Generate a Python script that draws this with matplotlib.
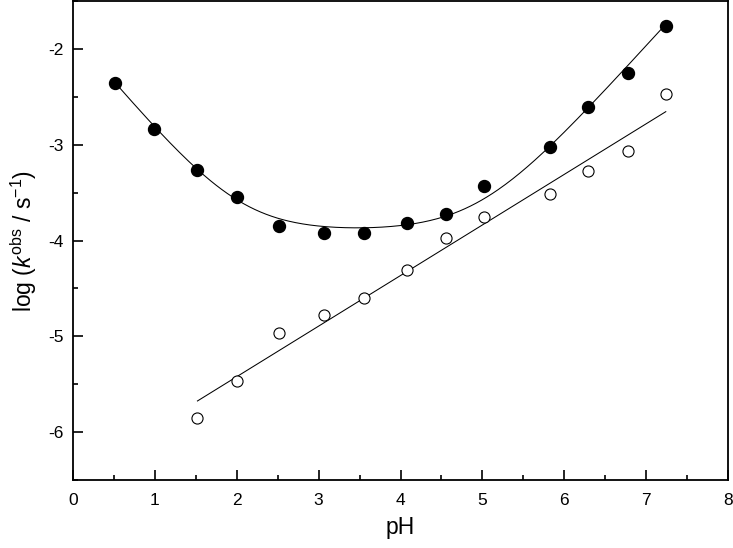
import numpy as np
import matplotlib
matplotlib.use("Agg")
import matplotlib.pyplot as plt

plt.rcParams['font.family'] = ['Liberation Sans', 'DejaVu Sans']
plt.rcParams['mathtext.fontset'] = 'custom'
plt.rcParams['mathtext.rm'] = 'Liberation Sans'
plt.rcParams['mathtext.it'] = 'Liberation Sans:italic'

# --- data ---
ph_filled = [0.51, 0.99, 1.52, 2.00, 2.52, 3.06, 3.55, 4.08, 4.55, 5.02, 5.82, 6.29, 6.78, 7.24]
logk_filled = [-2.35, -2.84, -3.26, -3.55, -3.85, -3.92, -3.92, -3.82, -3.72, -3.43, -3.02, -2.61, -2.25, -1.76]

ph_open = [1.52, 2.00, 2.52, 3.06, 3.55, 4.08, 4.55, 5.02, 5.82, 6.29, 6.78, 7.24]
logk_open = [-5.85, -5.47, -4.96, -4.78, -4.60, -4.31, -3.97, -3.75, -3.51, -3.27, -3.06, -2.47]

# fit parameters of the drawn curves
# filled: log k = log10(10^(a - pH) + 10^b + 10^(c + d*pH))
fit_a, fit_b, fit_c, fit_d = -1.85, -3.90, -8.55, 0.94
# open: straight line
line_slope, line_icpt = 0.528, -6.477

fig = plt.figure(figsize=(7.33, 5.48), dpi=100)
ax = fig.add_axes([0.0996, 0.124, 0.8936, 0.874])

ph_c = np.linspace(min(ph_filled), max(ph_filled), 300)
curve = np.log10(10 ** (fit_a - ph_c) + 10 ** fit_b + 10 ** (fit_c + fit_d * ph_c))
ax.plot(ph_c, curve, color='black', lw=0.75, zorder=2)

ph_l = np.array([min(ph_open), max(ph_open)])
ax.plot(ph_l, line_slope * ph_l + line_icpt, color='black', lw=0.75, zorder=2)

ax.plot(ph_filled, logk_filled, 'o', ms=8.6, mfc='black', mec='black', zorder=3)
ax.plot(ph_open, logk_open, 'o', ms=8.0, mfc='white', mec='black', mew=0.8, zorder=3)

ax.set_xlim(0, 8)
ax.set_ylim(-6.5, -1.5)
ax.set_xticks(np.arange(0, 9, 1))
ax.set_xticks(np.arange(0.5, 8, 1), minor=True)
ax.set_yticks(np.arange(-6, -1.5, 1))
ax.set_yticks(np.arange(-6.5, -1.4, 0.5), minor=True)
ax.set_yticklabels([str(v) for v in range(-6, -1)])

ax.tick_params(which='both', direction='in', width=1.2, labelsize=12.5)
ax.tick_params(which='major', length=7)
ax.tick_params(which='minor', length=3.5)
ax.tick_params(axis='x', pad=9)
ax.tick_params(axis='y', pad=7)
for s in ax.spines.values():
    s.set_linewidth(1.3)

ax.set_xlabel('pH', fontsize=16.5, labelpad=6)
ax.set_ylabel(r'log ($k^{\mathrm{obs}}$ / s$^{-1}$)', fontsize=16.5, labelpad=6)

fig.savefig('out.png', dpi=100)
